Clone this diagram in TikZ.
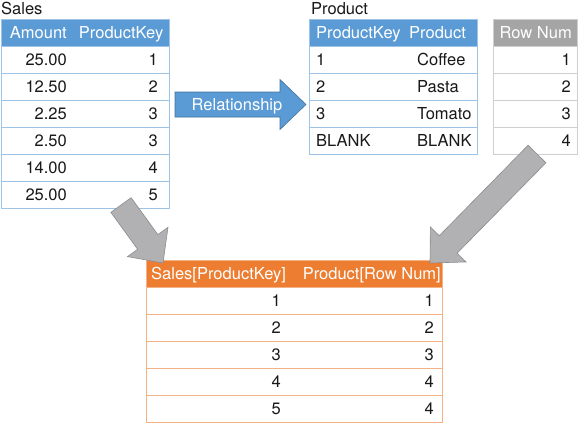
\documentclass[tikz,border=0pt]{standalone}
\usepackage{fontspec}
\setmainfont{TeX Gyre Heros}
\usepackage{xcolor}
\usepackage{tikz}
\usetikzlibrary{calc,positioning}
\definecolor{hdblue}{HTML}{5B9BD5}
\definecolor{lnblue}{HTML}{9DC3E6}
\definecolor{hdgray}{HTML}{A5A5A5}
\definecolor{lngray}{HTML}{CFCFCF}
\definecolor{hdorange}{HTML}{ED7D31}
\definecolor{lnorange}{HTML}{F4B183}
\definecolor{arrgray}{HTML}{B1B1B4}
\definecolor{arredge}{HTML}{8C8C8E}
\definecolor{reledge}{HTML}{41719C}
\newcommand{\tabfont}{\fontsize{16.5}{20}\selectfont}
%% block arrow from tail #2 to tip #3
\newcommand{\blockarrow}[3]{%
\coordinate (ah) at ($(#3)!26pt!(#2)$);
\draw[#1] ($(#2)!12.5pt!90:(#3)$) -- ($(ah)!12.5pt!90:(#3)$)
 -- ($(ah)!25pt!90:(#3)$) -- (#3) -- ($(ah)!25pt!-90:(#3)$)
 -- ($(ah)!12.5pt!-90:(#3)$) -- ($(#2)!12.5pt!-90:(#3)$) -- cycle;}
\tikzset{
 tab/.style={inner sep=0pt, minimum height=27pt, line width=0.8pt},
 bluehead/.style={tab, draw=lnblue, fill=hdblue},
 bluerow/.style={tab, draw=lnblue, fill=white},
 grayhead/.style={tab, draw=lngray, fill=hdgray},
 grayrow/.style={tab, draw=lngray, fill=white},
 orangehead/.style={tab, draw=lnorange, fill=hdorange},
 orangerow/.style={tab, draw=lnorange, fill=white},
 txt/.style={inner sep=0pt, font=\tabfont, text=black!90},
 htxt/.style={txt, text=white},
 grayarrow/.style={fill=arrgray, draw=arredge, line width=0.6pt, line join=miter},
 relarrow/.style={fill=hdblue, draw=reledge, line width=0.6pt, line join=miter}
}
\begin{document}
\begin{tikzpicture}[x=1pt,y=-1pt]
\useasboundingbox (0,0) rectangle (578,423);
%%Titles
\node[txt, anchor=base west] (salestitle) at (1,14) {Sales};
\node[txt, anchor=base west] (prodtitle) at (311,14) {Product};
%%Sales table
\node[bluehead, minimum width=168pt] (sh) at (85,32.5) {};
\node[htxt, anchor=base east] (sh1) at (67,38.5) {Amount};
\node[htxt, anchor=base east] (sh2) at (163.5,38.5) {ProductKey};
\foreach \amt/\key [count=\i] in {25.00/1,12.50/2,2.25/3,2.50/3,14.00/4,25.00/5}{
\node[bluerow, minimum width=168pt] (s\i) at (85,{32.5+27*\i}) {};
\node[txt, anchor=base east] (sa\i) at (67,{38.5+27*\i}) {\amt};
\node[txt, anchor=base east] (sk\i) at (158,{38.5+27*\i}) {\key};
}
%%Product table
\node[bluehead, minimum width=168pt] (ph) at (393,32.5) {};
\node[htxt, anchor=base west] (ph1) at (316,38.5) {ProductKey};
\node[htxt, anchor=base west] (ph2) at (409,38.5) {Product};
\foreach \key/\prod [count=\i] in {1/Coffee,2/Pasta,3/Tomato,BLANK/BLANK}{
\node[bluerow, minimum width=168pt] (p\i) at (393,{32.5+27*\i}) {};
\node[txt, anchor=base west] (pk\i) at (316,{38.5+27*\i}) {\key};
\node[txt, anchor=base west] (pp\i) at (417,{38.5+27*\i}) {\prod};
}
%%Row Num column
\node[grayhead, minimum width=84pt] (nh) at (535,32.5) {};
\node[htxt, anchor=base east] (nh1) at (572,38.5) {Row Num};
\foreach \i in {1,...,4}{
\node[grayrow, minimum width=84pt] (n\i) at (535,{32.5+27*\i}) {};
\node[txt, anchor=base east] (nn\i) at (571,{38.5+27*\i}) {\i};
}
%%Result table
\node[orangehead, minimum width=296pt] (rh) at (294,273.5) {};
\node[htxt, anchor=base west] (rh1) at (151,279.5) {Sales[ProductKey]};
\node[htxt, anchor=base east] (rh2) at (441,279.5) {Product[Row Num]};
\foreach \sk/\rn [count=\i] in {1/1,2/2,3/3,4/4,5/4}{
\node[orangerow, minimum width=296pt] (r\i) at (294,{273.5+27*\i}) {};
\node[txt, anchor=base east] (rs\i) at (281,{279.5+27*\i}) {\sk};
\node[txt, anchor=base east] (rn\i) at (434,{279.5+27*\i}) {\rn};
}
%%Block arrows
\coordinate (reltail) at (175,104.5);
\coordinate (reltip) at (306,104.5);
\coordinate (ltail) at (121,205);
\coordinate (ltip) at (163,263);
\coordinate (rtail) at (537,154);
\coordinate (rtip) at (430,263);
\blockarrow{relarrow}{reltail}{reltip}
\blockarrow{grayarrow}{ltail}{ltip}
\blockarrow{grayarrow}{rtail}{rtip}
\node[htxt, anchor=base] (rel) at (237,110.5) {Relationship};
\end{tikzpicture}
\end{document}
